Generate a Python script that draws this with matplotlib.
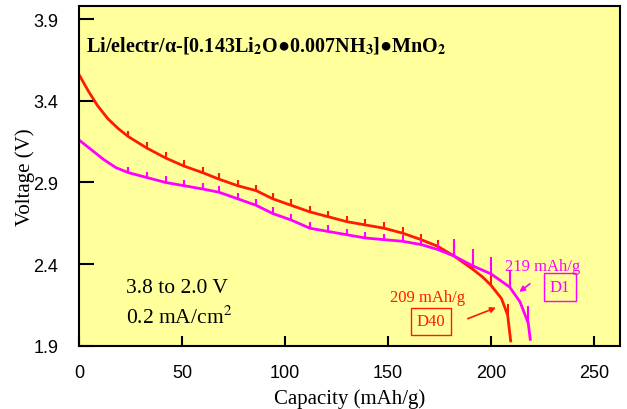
import numpy as np
import matplotlib
matplotlib.use("Agg")
import matplotlib.pyplot as plt

# D40 (red) discharge curve
cap_d40 = [0, 4.5, 9, 14, 19, 24, 33, 42, 51, 60, 68, 77, 86, 94, 103, 112, 121,
           130, 139, 148, 157, 166, 174, 182, 191, 196, 200, 205, 208, 209.5]
v_d40 = [3.56, 3.46, 3.37, 3.29, 3.23, 3.18, 3.11, 3.05, 3.00, 2.96, 2.92, 2.88,
         2.85, 2.80, 2.76, 2.72, 2.69, 2.66, 2.64, 2.62, 2.59, 2.55, 2.51, 2.45,
         2.37, 2.32, 2.27, 2.19, 2.09, 1.93]

# D1 (magenta) discharge curve
cap_d1 = [0, 6, 12, 18, 24, 33, 42, 51, 60, 68, 77, 86, 94, 103, 112, 121, 130,
          139, 148, 157, 166, 174, 182, 191, 200, 209, 214, 218, 219]
v_d1 = [3.16, 3.10, 3.04, 2.99, 2.96, 2.93, 2.90, 2.88, 2.86, 2.84, 2.80, 2.76,
        2.71, 2.67, 2.62, 2.60, 2.58, 2.56, 2.55, 2.54, 2.52, 2.49, 2.45, 2.39,
        2.34, 2.26, 2.17, 2.04, 1.94]

# capacities carrying the small / long tick marks
small_d40 = [24, 33, 42, 51, 60, 68, 77, 86, 94, 103, 112, 121, 130, 139, 148, 157, 166, 174]
long_d40 = [182, 191, 200, 208]
small_d1 = [24, 33, 42, 51, 60, 68, 77, 86, 94, 103, 112, 121, 130, 139, 148, 157, 166, 174]
long_d1 = [182, 191, 200, 209, 218]

xticks = [0, 50, 100, 150, 200, 250]
yticks = [1.9, 2.4, 2.9, 3.4, 3.9]

plt.rcParams["mathtext.fontset"] = "stix"
serif = ["Liberation Serif", "DejaVu Sans"]

fig = plt.figure(figsize=(6.27, 4.10), dpi=100)
ax = fig.add_axes([0.126, 0.154, 0.863, 0.829])
ax.set_facecolor("#ffff9c")

red = "#ff1a00"
mag = "#ff00ff"


def curve(cap, v, color, small, long_, long_ms):
    ax.plot(cap, v, color=color, lw=2)
    ax.plot(cap, v, lw=0, color=color, marker=2, ms=4, mew=1.5,
            markevery=list(np.isin(cap, small)))
    ax.plot(cap, v, lw=0, color=color, marker=2, ms=long_ms, mew=1.5,
            markevery=list(np.isin(cap, long_)))


curve(cap_d40, v_d40, red, small_d40, long_d40, 8)
curve(cap_d1, v_d1, mag, small_d1, long_d1, 12)

ax.set_xlim(0, 262.6)
ax.set_ylim(1.9, 3.98)
ax.set_xticks(xticks)
ax.set_yticks(yticks)
ax.set_xticklabels([str(t) for t in xticks], family="Liberation Sans", fontsize=13)
ax.set_yticklabels([str(t) for t in yticks], family="Liberation Sans", fontsize=13)
ax.tick_params(axis="y", direction="in", length=11, width=1.5, pad=15)
ax.tick_params(axis="x", direction="in", length=7, width=1.5, pad=13)
for s in ax.spines.values():
    s.set_linewidth(1.5)

ax.set_xlabel("Capacity (mAh/g)", family=serif, fontsize=15, labelpad=5)
ax.set_ylabel("Voltage (V)", family=serif, fontsize=15, labelpad=-1)

ax.text(3.5, 3.735,
        r"Li/electr/α-[0.143Li$_\mathbf{2}$O●0.007NH$_\mathbf{3}$]●MnO$_\mathbf{2}$",
        family=serif, fontsize=14.5, fontweight="bold", va="center")
ax.text(22.8, 2.255, "3.8 to 2.0 V", family=serif, fontsize=15.5, va="center")
ax.text(22.8, 2.077, r"0.2 mA/cm$^2$", family=serif, fontsize=15.5, va="center")

ax.text(225, 2.39, "219 mAh/g", family=serif, fontsize=12, color=mag,
        ha="center", va="center")
ax.text(233.5, 2.26, "D1", family=serif, fontsize=12, color=mag, ha="center",
        va="center", bbox=dict(boxstyle="square,pad=0.35", fc="none", ec=mag, lw=1))
ax.text(169.4, 2.20, "209 mAh/g", family=serif, fontsize=12, color=red,
        ha="center", va="center")
ax.text(170.9, 2.05, "D40", family=serif, fontsize=12, color=red, ha="center",
        va="center", bbox=dict(boxstyle="square,pad=0.35", fc="none", ec=red, lw=1))

ax.annotate("", xy=(203.6, 2.14), xytext=(187.4, 2.06),
            arrowprops=dict(arrowstyle="-|>", color=red, lw=1.2, mutation_scale=8))
ax.annotate("", xy=(212.6, 2.22), xytext=(219.9, 2.29),
            arrowprops=dict(arrowstyle="-|>", color=mag, lw=1.2, mutation_scale=8))

fig.savefig("out.png", dpi=100)
